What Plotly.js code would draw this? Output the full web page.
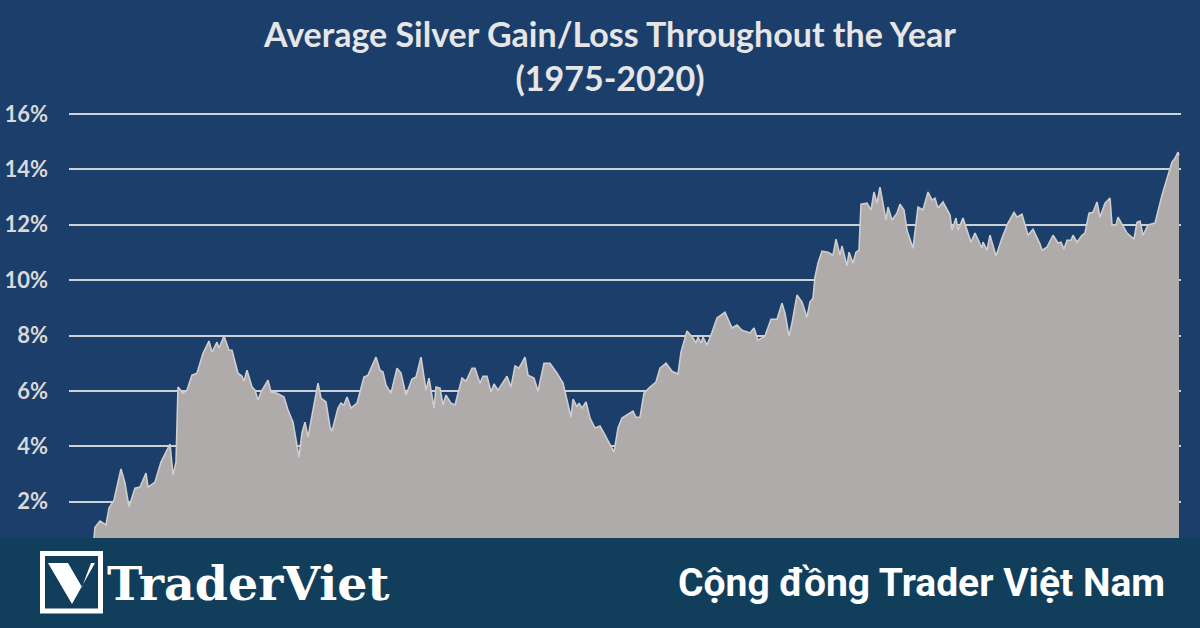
<!DOCTYPE html>
<html><head><meta charset="utf-8">
<script src="https://cdn.plot.ly/plotly-3.0.1.min.js"></script>
<style>html,body{margin:0;padding:0;background:#1c3e6a}#c{width:1200px;height:628px}</style>
</head><body><div id="c"></div>
<script>
const chartTitle = "Average Silver Gain/Loss Throughout the Year<br>(1975-2020)";
const brandName = "TraderViet";
const brandSlogan = "Cộng đồng Trader Việt Nam";
const tickValues = [2,4,6,8,10,12,14,16];
const tickLabels = ["2%","4%","6%","8%","10%","12%","14%","16%"];
const sessions = [0.25,0.5,1.75,3.25,4,5.25,7,8,9,10.5,11.75,13.25,13.75,15.5,17,19.25,20,20.75,21.25,22.5,23.5,24.75,26,27.5,29,29.75,31,31.5,32.75,34,34.75,36.25,37.25,37.75,38.5,39.75,40.5,41.25,42,43.75,44.5,46,47.75,48.75,50,51,51.5,52.25,53,53.75,54.75,56.25,57,58.25,59.25,59.75,61.25,62,62.75,63.5,64.5,66,66.75,67.75,68.75,70,70.75,71.75,72.5,73.25,74.5,76,77,78.25,79.75,80.75,82,83.25,84,85.25,85.75,86.75,87.5,88.25,89.5,90.5,92.25,93.25,94.75,95.5,96.75,97.5,98.5,99.5,100.25,101.25,103.5,104.5,105.5,106.5,108,108.75,110.25,111.25,112.75,114.25,116,117.5,118.75,119.5,120,121,121.5,122.25,123.25,124.25,125.5,126.75,128,129.25,130.25,131.25,132.25,135,135.75,136.75,137.75,139.25,140.75,141.75,143.25,144.75,146.25,147,148.5,150,150.75,151.25,152,152.5,153.5,154.75,156,158,159.75,161,162.25,163.75,164.25,165.25,166.25,168,169.5,171,172.25,173,174,174.75,176,177.25,178.5,179.25,180,180.5,181.25,182.25,183.75,185,185.75,186.75,187.25,188.5,189,190,190.75,191.5,192,193.5,194.5,195.25,196,196.75,197.5,198.25,198.75,199.75,201,201.75,202.75,203.5,205,206.25,207.5,208.75,209.75,210.5,211.25,212.5,214.25,214.75,215.75,216.25,217.5,219.5,220.5,222.25,222.5,223.5,224.25,225.75,227.25,228.75,230.25,231,232.25,233.75,235,236.75,237.25,238.5,240,241.25,242,242.75,243.5,244.5,245,246,247.25,248,249,250,251,251.75,253,254.25,254.75,255.75,256.25,258.5,260.25,261,261.75,262.5,263.75,265.5,267.25,269.75,270.5,271.25,271.5];
const avgGain = [0.69,1.08,1.30,1.16,1.77,2.06,3.18,2.67,1.81,2.49,2.53,3.03,2.53,2.71,3.43,4.08,2.96,3.43,6.14,5.92,6.03,6.57,6.64,7.36,7.80,7.40,7.76,7.54,7.98,7.47,7.47,6.64,6.53,6.35,6.75,6.14,6.03,5.67,5.96,6.39,5.96,5.92,5.78,5.31,4.87,3.97,3.61,4.48,4.87,4.33,5.13,6.28,5.74,5.60,4.69,4.55,5.38,5.56,5.49,5.78,5.38,5.56,5.96,6.50,6.57,7.00,7.22,6.75,6.68,6.21,5.92,6.82,6.64,5.85,6.43,6.50,7.22,6.03,6.46,5.38,6.14,6.10,5.49,5.85,5.56,5.49,6.46,6.35,6.82,6.82,6.28,6.53,6.53,5.96,6.25,6.03,6.53,6.14,6.90,6.82,7.22,6.57,6.46,5.99,7.00,7.00,6.64,6.28,5.56,5.05,5.70,5.42,5.56,5.38,5.60,5.02,4.66,4.73,4.40,4.04,3.79,4.66,5.02,5.27,5.05,5.05,5.92,6.14,6.32,6.82,7.00,6.71,6.61,7.40,8.16,7.91,7.73,7.94,7.73,7.94,7.65,8.12,8.63,8.84,8.27,8.38,8.19,8.12,8.09,8.27,7.83,7.98,8.59,8.59,9.17,8.81,7.98,8.45,9.46,9.21,8.66,9.21,9.35,10.11,10.61,11.05,11.01,10.90,11.48,10.90,11.23,10.51,11.01,10.61,11.01,11.08,12.74,12.78,12.53,13.18,12.78,13.36,12.82,12.17,12.64,12.17,12.42,12.74,12.53,11.80,11.15,12.64,12.53,13.18,12.89,12.96,12.60,12.82,12.35,11.80,12.24,11.80,12.24,11.37,11.70,11.15,11.37,11.08,11.62,10.87,11.52,12.06,12.45,12.27,12.38,11.62,11.84,11.30,11.08,11.19,11.62,11.34,11.37,11.12,11.44,11.44,11.62,11.37,11.62,11.70,12.42,12.45,12.82,12.27,12.78,12.96,11.99,11.99,12.27,11.70,11.48,12.09,12.13,11.62,11.99,12.06,13.07,14.26,14.40,14.62,14.50];

const L=69,R=1181,T=112,B=538;
const px=x=>(x-L)/(R-L), py=y=>(B-y)/(B-T);
const pathOf=pts=>"M"+pts.map(p=>px(p[0]).toFixed(5)+","+py(p[1]).toFixed(5)).join(" L")+" Z";

const trace={x:sessions,y:avgGain,type:"scatter",mode:"lines",fill:"tozeroy",
  fillcolor:"#afabab",line:{color:"#cfcdcd",width:1.6,shape:"linear"},hoverinfo:"skip"};
const layout={
  width:1200,height:628,paper_bgcolor:"#1c3e6a",plot_bgcolor:"#1c3e6a",showlegend:false,
  margin:{l:L,r:1200-R,t:T,b:628-B,pad:0},
  font:{family:"Lato, sans-serif",color:"#d9d9d9"},
  title:{text:chartTitle,x:610/1200,xanchor:"center",y:0.925,yanchor:"top",yref:"container",
    font:{family:"Lato, sans-serif",size:34,color:"#e6e6e6",weight:700}},
  xaxis:{visible:false,range:[-6,272],fixedrange:true},
  yaxis:{range:[0.69,16.07],tickvals:tickValues,ticktext:tickLabels,showgrid:true,gridcolor:"#cdd1d6",gridwidth:2,
    zeroline:false,showline:false,ticks:"",ticklabelstandoff:20,automargin:false,
    tickfont:{family:"Lato, sans-serif",size:22,color:"#d9d9d9",weight:700}},
  shapes:[
    {type:"rect",xref:"paper",yref:"paper",x0:px(0),x1:px(1200),y0:py(628),y1:py(538),fillcolor:"#113e5a",line:{width:0},layer:"above"},
    {type:"rect",xref:"paper",yref:"paper",x0:px(42.5),x1:px(100.5),y0:py(611),y1:py(553.5),fillcolor:"rgba(0,0,0,0)",line:{color:"#ffffff",width:5},layer:"above"},
    {type:"path",xref:"paper",yref:"paper",path:pathOf([[48,563],[68,563],[82,587],[91,563],[95,563],[72,604]]),fillcolor:"#ffffff",line:{width:0},layer:"above"}
  ],
  annotations:[
    {text:brandName,xref:"paper",yref:"paper",x:px(105),y:py(583),xanchor:"left",yanchor:"middle",showarrow:false,
      font:{family:"DejaVu Serif, serif",size:47.5,color:"#ffffff",weight:700}},
    {text:brandSlogan,xref:"paper",yref:"paper",x:px(1167),y:py(583),xanchor:"right",yanchor:"middle",showarrow:false,
      font:{family:"Roboto, sans-serif",size:39,color:"#ffffff",weight:700}}
  ]
};
Plotly.newPlot("c",[trace],layout,{staticPlot:true,displayModeBar:false});
</script></body></html>
